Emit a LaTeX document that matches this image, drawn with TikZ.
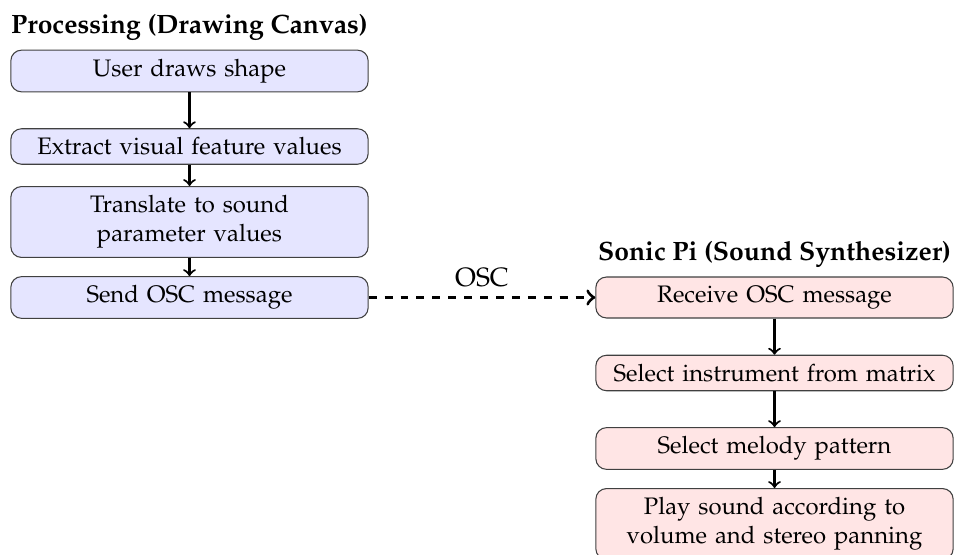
\documentclass[tikz,border=0pt]{standalone}
\usepackage[T1]{fontenc}
\usepackage{mathpazo}
\usetikzlibrary{positioning}

\tikzset{every picture/.style={line width=0.4pt}}
\tikzset{
  procbox/.style={draw=black!75, fill=blue!10, rounded corners, font=\small, text width=4.5cm, align=center},
  synthbox/.style={draw=black!75, fill=red!10, rounded corners, font=\small, text width=4.5cm, align=center},
  paneltitle/.style={font=\bfseries, anchor=south},
  flowarrow/.style={->, thick},
  osclink/.style={->, very thick, dashed}
}

\begin{document}
\begin{tikzpicture}[x=0.377pt,y=0.377pt,yscale=-1]
\useasboundingbox (0,0) rectangle (954,555);

% Processing column
\node [procbox] (drawshape) at (189.5,71) {User draws shape};
\node [procbox] (extract) at (189.5,146.5) {Extract visual feature values};
\node [procbox] (translate) at (189.5,222) {Translate to sound parameter values};
\node [procbox] (sendosc) at (189.5,297.5) {Send OSC message};
\node [paneltitle] (proctitle) at (drawshape.north) {Processing (Drawing Canvas)};

% Sonic Pi column
\node [synthbox] (receive) at (774.5,297.5) {Receive OSC message};
\node [synthbox] (instrument) at (774.5,373) {Select instrument from matrix};
\node [synthbox] (melody) at (774.5,448.5) {Select melody pattern};
\node [synthbox] (play) at (774.5,524) {Play sound according to volume and stereo panning};
\node [paneltitle] (synthtitle) at (receive.north) {Sonic Pi (Sound Synthesizer)};

% Arrows
\draw [flowarrow] (drawshape) -- (extract);
\draw [flowarrow] (extract) -- (translate);
\draw [flowarrow] (translate) -- (sendosc);
\draw [flowarrow] (receive) -- (instrument);
\draw [flowarrow] (instrument) -- (melody);
\draw [flowarrow] (melody) -- (play);

% OSC link
\draw [osclink] (sendosc) -- node [midway, above] (osclabel) {OSC} (receive);

\end{tikzpicture}
\end{document}
